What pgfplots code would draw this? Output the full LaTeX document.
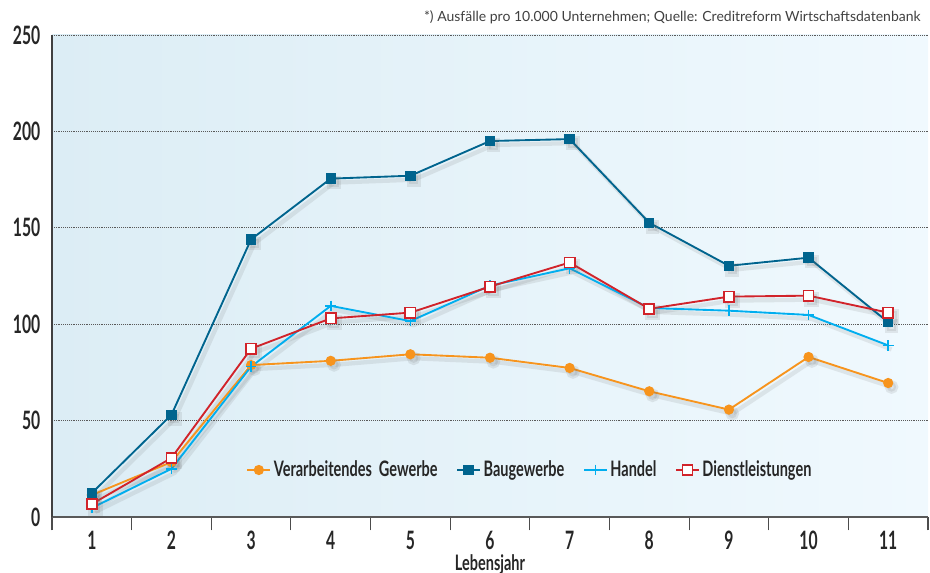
\documentclass[border=0pt]{standalone}
\usepackage{fontspec}
\setmainfont{Lato}
\newfontfamily\condfont[FakeStretch=0.62]{Lato}
\newfontfamily\legfont[FakeStretch=0.68]{Lato}
\usepackage{pgfplots}
\usepackage{pgfplotstable}
\pgfplotsset{compat=1.18}
\usetikzlibrary{calc}
\definecolor{corange}{HTML}{F7941D}
\definecolor{cdblue}{HTML}{00648E}
\definecolor{ccyan}{HTML}{00AEEF}
\definecolor{cred}{HTML}{D1232A}
\definecolor{bgL}{HTML}{DCEDF5}
\definecolor{bgR}{HTML}{F0F9FE}

\pgfplotstableread{
x vg bau han dl
1 11.4 12.4 4.7 6.7
2 28.5 53 25 30.6
3 78.8 144 78 87.3
4 81 175.5 109.5 103
5 84.4 177 101.6 106
6 82.6 195 120 119.5
7 77.3 196 129 132
8 65.2 152.6 108.4 108
9 55.7 130.3 107 114.3
10 83 134.5 104.8 114.8
11 69.5 101 89 106
}\data

\begin{document}
\begin{tikzpicture}
\begin{axis}[name=ax, at={(0,0)}, anchor=south west,
  scale only axis, width=657pt, height=361.5pt,
  xmin=0.5, xmax=11.5, ymin=0, ymax=250,
  clip=false,
  axis background/.style={left color=bgL, right color=bgR},
  axis x line=bottom, axis y line=left,
  x axis line style={-, draw=black!65, line width=0.8pt},
  y axis line style={-, draw=black!75, line width=0.9pt},
  xtick={1,...,11}, major x tick style={draw=none},
  minor xtick={0.5,1.5,...,11.5},
  minor x tick style={draw=black!70, line width=0.8pt},
  minor tick length=10pt, tick align=outside,
  ytick={0,50,...,250}, major y tick style={draw=none},
  ymajorgrids, grid style={densely dotted, black!65, line width=0.6pt},
  /pgf/number format/assume math mode=true,
  ticklabel style={font=\condfont\bfseries\fontsize{19}{19}\selectfont, text=black!85},
  xticklabel style={yshift=-3pt},
  yticklabel style={xshift=-1pt},
  xlabel={Lebensjahr},
  xlabel style={font=\legfont\bfseries\fontsize{16}{16}\selectfont, text=black!85, at={(axis description cs:0.5,-0.098)}, anchor=center},
  legend style={at={(0.546,0.0975)}, anchor=center, draw=none, fill=none,
    font=\legfont\bfseries\fontsize{16}{17}\selectfont, text=black!85,
    legend columns=4, /tikz/every even column/.append style={column sep=12pt}},
  legend cell align=left,
  shadow/.style={black!60, opacity=0.13, line width=3.2pt, xshift=2.5pt, yshift=-3pt, forget plot, mark options={solid, fill=black!60, draw=black!60}},
]
\addplot[shadow, mark=*, mark size=3.5pt] table[x=x,y=vg]{\data};
\addplot[shadow, mark=square*, mark size=3.5pt] table[x=x,y=bau]{\data};
\addplot[shadow, mark=none] table[x=x,y=han]{\data};
\addplot[shadow, mark=square*, mark size=4pt] table[x=x,y=dl]{\data};

\addplot[corange, line width=1.4pt, mark=*, mark size=3.1pt, mark options={fill=corange, draw=corange}] table[x=x,y=vg]{\data};
\addlegendentry{Verarbeitendes\ \ Gewerbe}
\addplot[cdblue, line width=1.4pt, mark=square*, mark size=3.2pt, mark options={fill=cdblue, draw=cdblue}] table[x=x,y=bau]{\data};
\addlegendentry{Baugewerbe}
\addplot[ccyan, line width=1.4pt, mark=+, mark size=4pt, mark options={ccyan, line width=1.2pt}] table[x=x,y=han]{\data};
\addlegendentry{Handel}
\addplot[cred, line width=1.4pt, mark=square*, mark size=3.8pt, mark options={fill=white, draw=cred, line width=1.3pt}] table[x=x,y=dl]{\data};
\addlegendentry{Dienstleistungen}

\node[anchor=base east, font=\fontsize{10.5}{12}\selectfont, text=black!75] at ($(rel axis cs:1,1)+(-2pt,9.75pt)$) {*) Ausfälle pro 10.000 Unternehmen; Quelle: Creditreform Wirtschaftsdatenbank};
\end{axis}
\pgfresetboundingbox
\path[use as bounding box] (-39pt,-42pt) rectangle (658.5pt,387.75pt);
\end{tikzpicture}
\end{document}
